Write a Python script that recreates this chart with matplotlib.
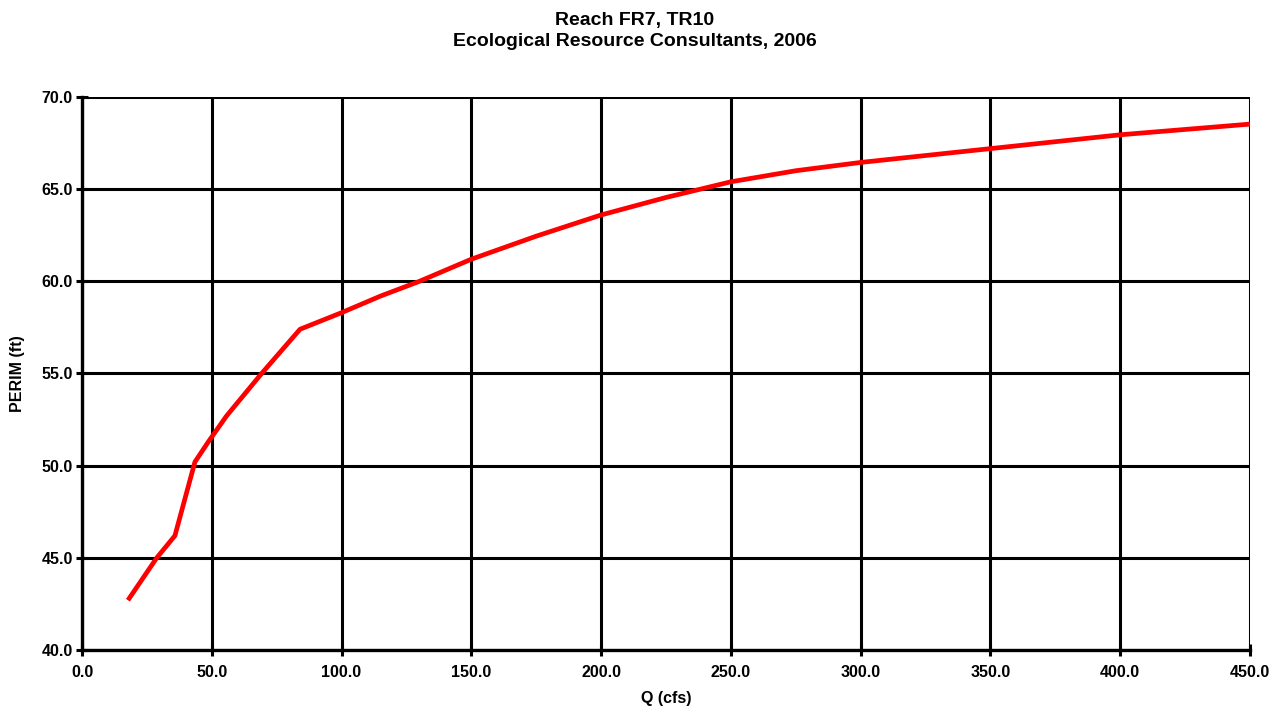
import matplotlib
matplotlib.use("Agg")
import matplotlib.pyplot as plt
from matplotlib.ticker import FormatStrFormatter, MultipleLocator

# Wetted perimeter vs. discharge
q_cfs = [17.7, 28.8, 35.8, 43.5, 48.7, 55.7, 69.2, 84.0, 100.0, 115.0, 130.0,
         150.0, 175.0, 200.0, 225.0, 250.0, 275.0, 300.0, 350.0, 400.0, 450.0]
perim_ft = [42.7, 45.0, 46.2, 50.2, 51.3, 52.7, 55.0, 57.4, 58.3, 59.2, 60.0,
            61.2, 62.45, 63.6, 64.55, 65.4, 66.0, 66.45, 67.2, 67.95, 68.53]

title_lines = ["Reach FR7, TR10", "Ecological Resource Consultants, 2006"]
x_label = "Q (cfs)"
y_label = "PERIM (ft)"

plt.rcParams['font.family'] = ['Liberation Sans', 'DejaVu Sans']
plt.rcParams['font.weight'] = 'bold'

fig = plt.figure(figsize=(12.88, 7.15), dpi=100)
ax = fig.add_axes([82 / 1288, 1 - 650 / 715, (1250 - 82) / 1288, (650 - 97) / 715])

ax.plot(q_cfs, perim_ft, color='#ff0000', linewidth=3.4, solid_capstyle='butt', zorder=3)

ax.set_xlim(0, 450)
ax.set_ylim(40, 70)
ax.xaxis.set_major_locator(MultipleLocator(50))
ax.yaxis.set_major_locator(MultipleLocator(5))
ax.xaxis.set_major_formatter(FormatStrFormatter('%.1f'))
ax.yaxis.set_major_formatter(FormatStrFormatter('%.1f'))

ax.grid(True, color='black', linewidth=2.2)
ax.set_axisbelow(True)
for side in ['top', 'right']:
    ax.spines[side].set_visible(False)
for side in ['left', 'bottom']:
    ax.spines[side].set_linewidth(2.4)
    ax.spines[side].set_zorder(4)

ax.tick_params(axis='both', direction='inout', length=9, width=2.2, labelsize=11.5)
ax.tick_params(axis='x', pad=6)
ax.tick_params(axis='y', pad=2)
for lbl in ax.get_xticklabels() + ax.get_yticklabels():
    lbl.set_fontweight('bold')

ax.set_xlabel(x_label, fontsize=11.5, fontweight='bold', labelpad=8)
ax.set_ylabel(y_label, fontsize=11.5, fontweight='bold', labelpad=12)

fig.text(0.493, 1 - 20 / 715, title_lines[0], ha='center', va='center',
         fontsize=14, fontweight='bold')
fig.text(0.493, 1 - 41 / 715, title_lines[1], ha='center', va='center',
         fontsize=14, fontweight='bold')

fig.savefig('out.png', dpi=100, facecolor='white')
